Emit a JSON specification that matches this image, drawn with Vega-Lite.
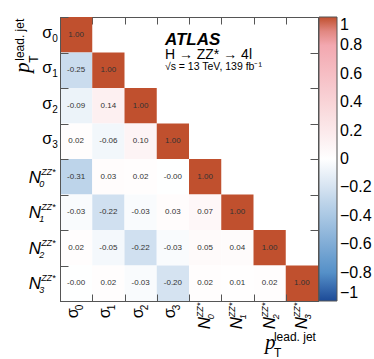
{
  "$schema": "https://vega.github.io/schema/vega-lite/v6.json",
  "width": 258,
  "height": 284,
  "autosize": {"type": "none"},
  "padding": {"left": 60, "top": 17, "right": 56, "bottom": 58},
  "background": "white",
  "config": {
    "font": "Liberation Sans",
    "view": {"stroke": "#555", "strokeWidth": 1},
    "axis": {"grid": false, "labels": false, "title": null, "domainColor": "#555", "tickColor": "#555", "tickBand": "extent"}
  },
  "datasets": {
    "cells": [
      {"row": "s0", "col": "s0", "value": 1.0, "label": "1.00"},
      {"row": "s1", "col": "s0", "value": -0.25, "label": "-0.25"},
      {"row": "s1", "col": "s1", "value": 1.0, "label": "1.00"},
      {"row": "s2", "col": "s0", "value": -0.09, "label": "-0.09"},
      {"row": "s2", "col": "s1", "value": 0.14, "label": "0.14"},
      {"row": "s2", "col": "s2", "value": 1.0, "label": "1.00"},
      {"row": "s3", "col": "s0", "value": 0.02, "label": "0.02"},
      {"row": "s3", "col": "s1", "value": -0.06, "label": "-0.06"},
      {"row": "s3", "col": "s2", "value": 0.10, "label": "0.10"},
      {"row": "s3", "col": "s3", "value": 1.0, "label": "1.00"},
      {"row": "n0", "col": "s0", "value": -0.31, "label": "-0.31"},
      {"row": "n0", "col": "s1", "value": 0.03, "label": "0.03"},
      {"row": "n0", "col": "s2", "value": 0.02, "label": "0.02"},
      {"row": "n0", "col": "s3", "value": -0.003, "label": "-0.00"},
      {"row": "n0", "col": "n0", "value": 1.0, "label": "1.00"},
      {"row": "n1", "col": "s0", "value": -0.03, "label": "-0.03"},
      {"row": "n1", "col": "s1", "value": -0.22, "label": "-0.22"},
      {"row": "n1", "col": "s2", "value": -0.03, "label": "-0.03"},
      {"row": "n1", "col": "s3", "value": 0.03, "label": "0.03"},
      {"row": "n1", "col": "n0", "value": 0.07, "label": "0.07"},
      {"row": "n1", "col": "n1", "value": 1.0, "label": "1.00"},
      {"row": "n2", "col": "s0", "value": 0.02, "label": "0.02"},
      {"row": "n2", "col": "s1", "value": -0.05, "label": "-0.05"},
      {"row": "n2", "col": "s2", "value": -0.22, "label": "-0.22"},
      {"row": "n2", "col": "s3", "value": -0.03, "label": "-0.03"},
      {"row": "n2", "col": "n0", "value": 0.05, "label": "0.05"},
      {"row": "n2", "col": "n1", "value": 0.04, "label": "0.04"},
      {"row": "n2", "col": "n2", "value": 1.0, "label": "1.00"},
      {"row": "n3", "col": "s0", "value": -0.003, "label": "-0.00"},
      {"row": "n3", "col": "s1", "value": 0.02, "label": "0.02"},
      {"row": "n3", "col": "s2", "value": -0.03, "label": "-0.03"},
      {"row": "n3", "col": "s3", "value": -0.20, "label": "-0.20"},
      {"row": "n3", "col": "n0", "value": 0.02, "label": "0.02"},
      {"row": "n3", "col": "n1", "value": 0.01, "label": "0.01"},
      {"row": "n3", "col": "n2", "value": 0.02, "label": "0.02"},
      {"row": "n3", "col": "n3", "value": 1.0, "label": "1.00"}
    ],
    "vars": [
      {"id": "s0", "kind": "s", "base": "σ", "sub": "0", "sup": ""},
      {"id": "s1", "kind": "s", "base": "σ", "sub": "1", "sup": ""},
      {"id": "s2", "kind": "s", "base": "σ", "sub": "2", "sup": ""},
      {"id": "s3", "kind": "s", "base": "σ", "sub": "3", "sup": ""},
      {"id": "n0", "kind": "n", "base": "N", "sub": "0", "sup": "ZZ*"},
      {"id": "n1", "kind": "n", "base": "N", "sub": "1", "sup": "ZZ*"},
      {"id": "n2", "kind": "n", "base": "N", "sub": "2", "sup": "ZZ*"},
      {"id": "n3", "kind": "n", "base": "N", "sub": "3", "sup": "ZZ*"}
    ],
    "ttl": [{"p": "p", "sub": "T", "sup": "lead. jet"}],
    "ann": [{"a": "ATLAS", "b": "H → ZZ* → 4l", "c": "√s = 13 TeV, 139 fb⁻¹"}]
  },
  "layer": [
    {
      "data": {"name": "cells"},
      "mark": {"type": "rect", "strokeWidth": 0},
      "encoding": {
        "x": {"field": "col", "type": "nominal", "scale": {"domain": ["s0","s1","s2","s3","n0","n1","n2","n3"], "paddingInner": 0, "paddingOuter": 0}, "axis": {"orient": "bottom", "tickSize": -7}},
        "y": {"field": "row", "type": "nominal", "scale": {"domain": ["s0","s1","s2","s3","n0","n1","n2","n3"], "paddingInner": 0, "paddingOuter": 0}, "axis": {"orient": "left", "tickSize": -8}},
        "color": {
          "field": "value", "type": "quantitative",
          "scale": {"domain": [-1, -0.8, 0, 0.85, 1], "range": ["#1c4a97", "#5590c8", "#ffffff", "#f2a3ab", "#c0502e"], "interpolate": "rgb"},
          "legend": {"orient": "none", "legendX": 259, "legendY": 0, "direction": "vertical", "gradientLength": 284, "gradientThickness": 18, "title": null, "values": [-1, -0.8, -0.6, -0.4, -0.2, 0, 0.2, 0.4, 0.6, 0.8, 1], "format": ".1~f", "labelFontSize": 16, "labelOffset": 3, "labelColor": "#000", "labelBaseline": "middle", "labelOverlap": false, "gradientStrokeColor": "#555", "gradientStrokeWidth": 1, "padding": 0}
        }
      }
    },
    {
      "data": {"name": "cells"},
      "mark": {"type": "text", "fontSize": 8, "color": "#333"},
      "encoding": {
        "x": {"field": "col", "type": "nominal", "axis": {"orient": "top", "tickSize": -7}},
        "y": {"field": "row", "type": "nominal", "axis": {"orient": "right", "tickSize": -8}},
        "text": {"field": "label"}
      }
    },
    {
      "data": {"name": "vars"}, "transform": [{"filter": "datum.kind == 's'"}],
      "mark": {"type": "text", "fontSize": 16, "align": "right", "baseline": "middle", "dx": -24, "dy": -2, "color": "#000"},
      "encoding": {"x": {"datum": "s0", "type": "nominal", "axis": null}, "y": {"field": "id", "type": "nominal", "axis": null}, "text": {"field": "base"}}
    },
    {
      "data": {"name": "vars"}, "transform": [{"filter": "datum.kind == 's'"}],
      "mark": {"type": "text", "fontSize": 10, "align": "left", "baseline": "middle", "dx": -24, "dy": 4, "color": "#000"},
      "encoding": {"x": {"datum": "s0", "type": "nominal", "axis": null}, "y": {"field": "id", "type": "nominal", "axis": null}, "text": {"field": "sub"}}
    },
    {
      "data": {"name": "vars"}, "transform": [{"filter": "datum.kind == 'n'"}],
      "mark": {"type": "text", "fontSize": 17, "fontStyle": "italic", "align": "right", "baseline": "middle", "dx": -35, "dy": 1, "color": "#000"},
      "encoding": {"x": {"datum": "s0", "type": "nominal", "axis": null}, "y": {"field": "id", "type": "nominal", "axis": null}, "text": {"field": "base"}}
    },
    {
      "data": {"name": "vars"}, "transform": [{"filter": "datum.kind == 'n'"}],
      "mark": {"type": "text", "fontSize": 9, "fontStyle": "italic", "align": "left", "baseline": "middle", "dx": -35, "dy": -5, "color": "#000"},
      "encoding": {"x": {"datum": "s0", "type": "nominal", "axis": null}, "y": {"field": "id", "type": "nominal", "axis": null}, "text": {"field": "sup"}}
    },
    {
      "data": {"name": "vars"}, "transform": [{"filter": "datum.kind == 'n'"}],
      "mark": {"type": "text", "fontSize": 9, "fontStyle": "italic", "align": "left", "baseline": "middle", "dx": -37, "dy": 7, "color": "#000"},
      "encoding": {"x": {"datum": "s0", "type": "nominal", "axis": null}, "y": {"field": "id", "type": "nominal", "axis": null}, "text": {"field": "sub"}}
    },
    {
      "data": {"name": "vars"}, "transform": [{"filter": "datum.kind == 's'"}],
      "mark": {"type": "text", "fontSize": 16, "angle": 270, "align": "left", "baseline": "middle", "dx": -35, "dy": -3, "color": "#000"},
      "encoding": {"x": {"field": "id", "type": "nominal", "axis": null}, "y": {"datum": "n3", "type": "nominal", "axis": null}, "text": {"field": "base"}}
    },
    {
      "data": {"name": "vars"}, "transform": [{"filter": "datum.kind == 's'"}],
      "mark": {"type": "text", "fontSize": 10, "angle": 270, "align": "left", "baseline": "middle", "dx": -27, "dy": 4, "color": "#000"},
      "encoding": {"x": {"field": "id", "type": "nominal", "axis": null}, "y": {"datum": "n3", "type": "nominal", "axis": null}, "text": {"field": "sub"}}
    },
    {
      "data": {"name": "vars"}, "transform": [{"filter": "datum.kind == 'n'"}],
      "mark": {"type": "text", "fontSize": 17, "fontStyle": "italic", "angle": 270, "align": "left", "baseline": "middle", "dx": -46, "dy": 0, "color": "#000"},
      "encoding": {"x": {"field": "id", "type": "nominal", "axis": null}, "y": {"datum": "n3", "type": "nominal", "axis": null}, "text": {"field": "base"}}
    },
    {
      "data": {"name": "vars"}, "transform": [{"filter": "datum.kind == 'n'"}],
      "mark": {"type": "text", "fontSize": 9, "fontStyle": "italic", "angle": 270, "align": "left", "baseline": "middle", "dx": -34, "dy": -5, "color": "#000"},
      "encoding": {"x": {"field": "id", "type": "nominal", "axis": null}, "y": {"datum": "n3", "type": "nominal", "axis": null}, "text": {"field": "sup"}}
    },
    {
      "data": {"name": "vars"}, "transform": [{"filter": "datum.kind == 'n'"}],
      "mark": {"type": "text", "fontSize": 9, "fontStyle": "italic", "angle": 270, "align": "left", "baseline": "middle", "dx": -36, "dy": 6, "color": "#000"},
      "encoding": {"x": {"field": "id", "type": "nominal", "axis": null}, "y": {"datum": "n3", "type": "nominal", "axis": null}, "text": {"field": "sub"}}
    },
    {
      "data": {"name": "ttl"},
      "mark": {"type": "text", "font": "Liberation Serif", "fontSize": 21, "fontStyle": "italic", "angle": 270, "align": "left", "baseline": "alphabetic", "dx": -38, "dy": -47, "color": "#000"},
      "encoding": {"x": {"datum": "s0", "type": "nominal", "axis": null}, "y": {"datum": "s0", "type": "nominal", "axis": null}, "text": {"field": "p"}}
    },
    {
      "data": {"name": "ttl"},
      "mark": {"type": "text", "fontSize": 12, "angle": 270, "align": "left", "baseline": "alphabetic", "dx": -28, "dy": -38, "color": "#000"},
      "encoding": {"x": {"datum": "s0", "type": "nominal", "axis": null}, "y": {"datum": "s0", "type": "nominal", "axis": null}, "text": {"field": "sub"}}
    },
    {
      "data": {"name": "ttl"},
      "mark": {"type": "text", "fontSize": 12, "angle": 270, "align": "left", "baseline": "alphabetic", "dx": -26, "dy": -52, "color": "#000"},
      "encoding": {"x": {"datum": "s0", "type": "nominal", "axis": null}, "y": {"datum": "s0", "type": "nominal", "axis": null}, "text": {"field": "sup"}}
    },
    {
      "data": {"name": "ttl"},
      "mark": {"type": "text", "font": "Liberation Serif", "fontSize": 21, "fontStyle": "italic", "align": "left", "baseline": "alphabetic", "dx": -37, "dy": 66, "color": "#000"},
      "encoding": {"x": {"datum": "n3", "type": "nominal", "axis": null}, "y": {"datum": "n3", "type": "nominal", "axis": null}, "text": {"field": "p"}}
    },
    {
      "data": {"name": "ttl"},
      "mark": {"type": "text", "fontSize": 12, "align": "left", "baseline": "alphabetic", "dx": -28, "dy": 74, "color": "#000"},
      "encoding": {"x": {"datum": "n3", "type": "nominal", "axis": null}, "y": {"datum": "n3", "type": "nominal", "axis": null}, "text": {"field": "sub"}}
    },
    {
      "data": {"name": "ttl"},
      "mark": {"type": "text", "fontSize": 12, "align": "left", "baseline": "alphabetic", "dx": -28, "dy": 58, "color": "#000"},
      "encoding": {"x": {"datum": "n3", "type": "nominal", "axis": null}, "y": {"datum": "n3", "type": "nominal", "axis": null}, "text": {"field": "sup"}}
    },
    {
      "data": {"name": "ann"},
      "mark": {"type": "text", "fontSize": 17, "fontWeight": "bold", "fontStyle": "italic", "align": "left", "baseline": "alphabetic", "dx": -8, "dy": 10, "color": "#000"},
      "encoding": {"x": {"datum": "s3", "type": "nominal", "axis": null}, "y": {"datum": "s0", "type": "nominal", "axis": null}, "text": {"field": "a"}}
    },
    {
      "data": {"name": "ann"},
      "mark": {"type": "text", "fontSize": 14, "align": "left", "baseline": "alphabetic", "dx": -8, "dy": 24, "color": "#000"},
      "encoding": {"x": {"datum": "s3", "type": "nominal", "axis": null}, "y": {"datum": "s0", "type": "nominal", "axis": null}, "text": {"field": "b"}}
    },
    {
      "data": {"name": "ann"},
      "mark": {"type": "text", "fontSize": 10.5, "align": "left", "baseline": "alphabetic", "dx": -8, "dy": 35, "color": "#000"},
      "encoding": {"x": {"datum": "s3", "type": "nominal", "axis": null}, "y": {"datum": "s0", "type": "nominal", "axis": null}, "text": {"field": "c"}}
    }
  ],
  "resolve": {"axis": {"x": "independent", "y": "independent"}}
}
